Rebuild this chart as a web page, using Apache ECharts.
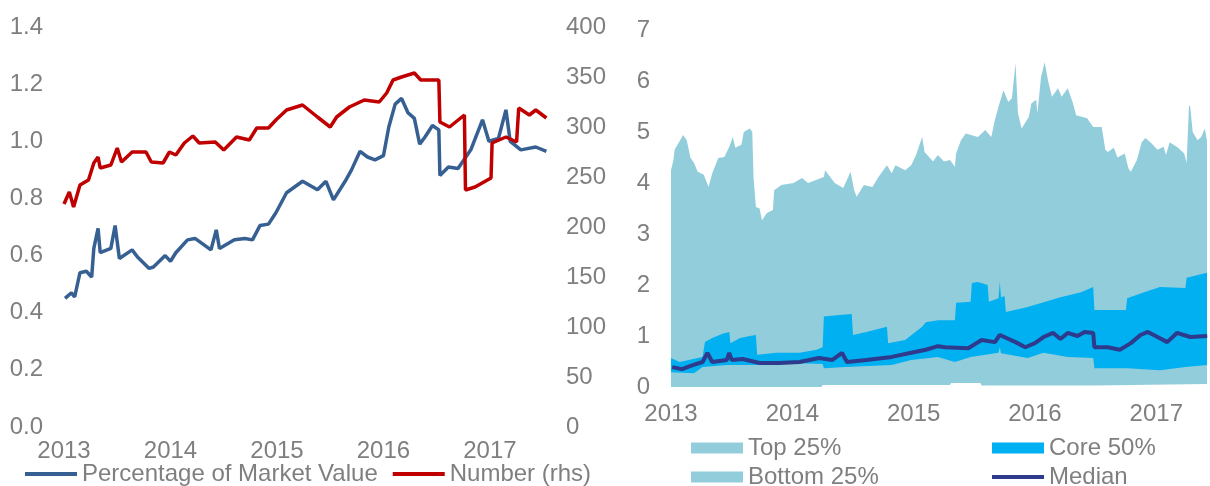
<!DOCTYPE html>
<html>
<head>
<meta charset="utf-8">
<script src="https://cdn.jsdelivr.net/npm/echarts@6/dist/echarts.min.js"></script>
<style>
  html, body { margin: 0; padding: 0; background: #fff; }
  #main { width: 1210px; height: 486px; }
</style>
</head>
<body>
<div id="main"></div>
<script>
// left panel: decimal years and values
const pctYears = [2013.01, 2013.07, 2013.10, 2013.15, 2013.21, 2013.26, 2013.28, 2013.32, 2013.34, 2013.44, 2013.48, 2013.52,
  2013.64, 2013.69, 2013.80, 2013.84, 2013.95, 2014.00, 2014.05, 2014.16, 2014.23, 2014.38, 2014.43, 2014.46,
  2014.60, 2014.70, 2014.77, 2014.84, 2014.92, 2014.99, 2015.09, 2015.24, 2015.38, 2015.46, 2015.53, 2015.64,
  2015.70, 2015.78, 2015.85, 2015.92, 2016.00, 2016.05, 2016.11, 2016.17, 2016.23, 2016.29, 2016.34, 2016.39,
  2016.46, 2016.52, 2016.53, 2016.61, 2016.70, 2016.82, 2016.93, 2016.99, 2017.08, 2017.15, 2017.19, 2017.29,
  2017.43, 2017.53]
const pctVals = [0.45, 0.47, 0.455, 0.54, 0.545, 0.525, 0.625, 0.695, 0.61, 0.625, 0.705, 0.59,
  0.62, 0.595, 0.555, 0.56, 0.60, 0.58, 0.61, 0.655, 0.66, 0.62, 0.69, 0.625,
  0.655, 0.66, 0.655, 0.705, 0.71, 0.75, 0.82, 0.86, 0.83, 0.86, 0.795, 0.86,
  0.90, 0.965, 0.945, 0.935, 0.95, 1.05, 1.13, 1.15, 1.10, 1.08, 0.99, 1.015,
  1.055, 1.04, 0.88, 0.91, 0.905, 0.97, 1.075, 1.00, 1.01, 1.11, 1.00, 0.97,
  0.98, 0.965]

const numYears = [2013.00, 2013.05, 2013.09, 2013.15, 2013.23, 2013.28, 2013.32, 2013.34, 2013.44, 2013.50, 2013.54, 2013.64,
  2013.77, 2013.82, 2013.93, 2013.99, 2014.05, 2014.13, 2014.21, 2014.27, 2014.42, 2014.50, 2014.62, 2014.74,
  2014.81, 2014.92, 2014.99, 2015.09, 2015.24, 2015.38, 2015.50, 2015.56, 2015.68, 2015.82, 2015.96, 2016.03,
  2016.09, 2016.17, 2016.29, 2016.35, 2016.52, 2016.53, 2016.62, 2016.76, 2016.77, 2016.86, 2017.01, 2017.02,
  2017.15, 2017.25, 2017.27, 2017.37, 2017.43, 2017.53]
const numVals = [223, 235, 220, 242, 247, 264, 270, 259, 262, 279, 265, 275,
  275, 265, 264, 275, 272, 284, 291, 284, 285, 277, 290, 287,
  299, 299, 307, 317, 322, 310, 300, 310, 320, 327, 325, 334,
  347, 350, 354, 347, 347, 305, 300, 312, 237, 240, 249, 284,
  290, 285, 319, 312, 317, 309]

// right panel: distribution bands
const maxYears = [2013.00, 2013.02, 2013.03, 2013.10, 2013.13, 2013.16, 2013.19, 2013.22, 2013.27, 2013.31, 2013.34, 2013.39,
  2013.44, 2013.48, 2013.51, 2013.53, 2013.58, 2013.60, 2013.65, 2013.67, 2013.68, 2013.70, 2013.73, 2013.75,
  2013.79, 2013.84, 2013.85, 2013.91, 2014.01, 2014.08, 2014.13, 2014.26, 2014.27, 2014.35, 2014.42, 2014.48,
  2014.51, 2014.53, 2014.59, 2014.66, 2014.71, 2014.78, 2014.82, 2014.85, 2014.93, 2014.98, 2015.02, 2015.07,
  2015.09, 2015.16, 2015.20, 2015.25, 2015.30, 2015.34, 2015.35, 2015.39, 2015.43, 2015.53, 2015.59, 2015.64,
  2015.67, 2015.70, 2015.74, 2015.78, 2015.81, 2015.84, 2015.86, 2015.89, 2015.95, 2015.97, 2016.01, 2016.02,
  2016.05, 2016.08, 2016.11, 2016.14, 2016.19, 2016.22, 2016.27, 2016.31, 2016.34, 2016.43, 2016.48, 2016.55,
  2016.58, 2016.60, 2016.65, 2016.68, 2016.74, 2016.77, 2016.79, 2016.84, 2016.88, 2016.91, 2016.96, 2017.01,
  2017.06, 2017.08, 2017.11, 2017.18, 2017.23, 2017.25, 2017.27, 2017.28, 2017.30, 2017.34, 2017.37, 2017.40,
  2017.42]
const maxVals = [4.25, 4.45, 4.65, 4.94, 4.84, 4.50, 4.39, 4.22, 4.16, 3.92, 4.19, 4.49,
  4.51, 4.71, 4.90, 4.69, 4.75, 5.00, 5.07, 5.00, 4.12, 3.53, 3.50, 3.27,
  3.41, 3.47, 3.86, 3.96, 4.00, 4.10, 4.00, 4.12, 4.25, 4.00, 3.90, 4.22,
  3.86, 3.73, 3.96, 3.92, 4.12, 4.35, 4.19, 4.35, 4.25, 4.35, 4.55, 4.90,
  4.61, 4.42, 4.55, 4.42, 4.45, 4.32, 4.58, 4.84, 4.97, 4.90, 5.04, 4.90,
  5.24, 5.50, 5.82, 5.59, 5.66, 6.35, 5.37, 5.07, 5.30, 5.56, 5.63, 5.37,
  6.08, 6.37, 5.98, 5.69, 5.86, 5.69, 5.86, 5.59, 5.33, 5.27, 5.10, 5.10,
  4.65, 4.61, 4.69, 4.50, 4.58, 4.29, 4.22, 4.45, 4.80, 4.88, 4.78, 4.65,
  4.71, 4.55, 4.80, 4.69, 4.58, 4.39, 5.53, 5.49, 5.00, 4.84, 4.90, 5.07,
  4.80]

const q3Years = [2013.00, 2013.07, 2013.26, 2013.28, 2013.34, 2013.43, 2013.48, 2013.49, 2013.57, 2013.65, 2013.70, 2013.71,
  2013.87, 2014.06, 2014.20, 2014.25, 2014.26, 2014.39, 2014.49, 2014.50, 2014.61, 2014.78, 2014.79, 2014.93,
  2015.07, 2015.10, 2015.20, 2015.34, 2015.35, 2015.47, 2015.48, 2015.53, 2015.61, 2015.62, 2015.70, 2015.71,
  2015.72, 2015.75, 2015.76, 2015.94, 2016.21, 2016.38, 2016.48, 2016.49, 2016.75, 2016.76, 2016.90, 2017.03,
  2017.24, 2017.25, 2017.42]
const q3Vals = [0.57, 0.49, 0.59, 0.88, 0.96, 1.05, 1.08, 0.86, 0.96, 1.00, 1.02, 0.63,
  0.67, 0.67, 0.73, 0.78, 1.38, 1.41, 1.43, 1.02, 1.08, 1.18, 0.86, 0.92,
  1.18, 1.27, 1.31, 1.31, 1.65, 1.67, 2.04, 2.06, 2.00, 1.67, 1.74, 2.06,
  1.76, 1.78, 1.47, 1.57, 1.76, 1.86, 1.96, 1.51, 1.51, 1.74, 1.86, 1.96,
  1.94, 2.14, 2.24]

const q1Years = [2013.00, 2013.19, 2013.26, 2013.46, 2013.73, 2014.00, 2014.25, 2014.26, 2014.44, 2014.82, 2014.98, 2015.20,
  2015.34, 2015.47, 2015.70, 2015.71, 2015.72, 2015.94, 2016.07, 2016.27, 2016.48, 2016.49, 2016.76, 2017.03,
  2017.24, 2017.42]
const q1Vals = [0.29, 0.27, 0.39, 0.43, 0.43, 0.47, 0.45, 0.37, 0.39, 0.43, 0.53, 0.59,
  0.49, 0.59, 0.67, 0.78, 0.66, 0.57, 0.67, 0.59, 0.57, 0.37, 0.37, 0.33,
  0.39, 0.43]

const minYears = [2013.00, 2014.24, 2014.25, 2015.30, 2015.31, 2015.55, 2015.56, 2016.50, 2017.42]
const minVals = [0, 0, 0.04, 0.04, 0.08, 0.08, 0.03, 0.03, 0.06]

const medYears = [2013.01, 2013.09, 2013.18, 2013.26, 2013.30, 2013.34, 2013.46, 2013.48, 2013.50, 2013.59, 2013.73, 2013.89,
  2014.06, 2014.22, 2014.33, 2014.41, 2014.45, 2014.61, 2014.82, 2014.98, 2015.10, 2015.20, 2015.26, 2015.45,
  2015.56, 2015.67, 2015.71, 2015.84, 2015.92, 2016.00, 2016.07, 2016.15, 2016.21, 2016.27, 2016.35, 2016.41,
  2016.48, 2016.49, 2016.60, 2016.70, 2016.79, 2016.87, 2016.93, 2017.01, 2017.09, 2017.17, 2017.28, 2017.42]
const medVals = [0.39, 0.35, 0.43, 0.49, 0.67, 0.49, 0.53, 0.67, 0.53, 0.55, 0.47, 0.47,
  0.49, 0.57, 0.53, 0.67, 0.49, 0.53, 0.59, 0.67, 0.73, 0.80, 0.78, 0.76,
  0.92, 0.88, 1.02, 0.88, 0.78, 0.86, 0.98, 1.06, 0.94, 1.06, 1.00, 1.08,
  1.06, 0.78, 0.78, 0.73, 0.86, 1.02, 1.08, 0.98, 0.88, 1.06, 0.98, 1.00]

const zip = (xs, ys) => xs.map((x, i) => [x, ys[i]])

const FONT = "'Liberation Sans', Arial, sans-serif"
const GREY = "#7f7f7f"
const txt = { color: GREY, fontSize: 24, fontFamily: FONT }
const yearLabel = (v) => (Number.isInteger(v) ? String(v) : "")

// one legend per entry so each sits where the original puts it
const legendAt = (left, top, name, h) => ({
  left: left, top: top, itemWidth: 52, itemHeight: h, itemGap: 15,
  textStyle: txt, data: [{ name: name, icon: "rect" }],
})

const noAxisLines = { axisLine: { show: false }, axisTick: { show: false }, splitLine: { show: false } }

const chart = echarts.init(document.getElementById("main"))

chart.setOption({
  animation: false,
  textStyle: { fontFamily: FONT },
  grid: [
    { left: 64, top: 27, width: 484, height: 400 },
    { left: 671, top: 30, width: 539, height: 357 },
  ],
  legend: [
    {
      left: 20, top: 457, itemWidth: 52, itemHeight: 4, itemGap: 15,
      textStyle: txt,
      data: [{ name: "Percentage of Market Value", icon: "rect" }, { name: "Number (rhs)", icon: "rect" }],
    },
    legendAt(686, 431, "Top 25%", 11),
    legendAt(686, 460, "Bottom 25%", 11),
    legendAt(987, 431, "Core 50%", 11),
    legendAt(987, 460, "Median", 4),
  ],
  xAxis: [
    {
      type: "value", gridIndex: 0, min: 2013, max: 2017.545, interval: 1, ...noAxisLines,
      axisLabel: { ...txt, margin: 12, formatter: yearLabel },
    },
    {
      type: "value", gridIndex: 1, min: 2013, max: 2017.418, interval: 1, ...noAxisLines,
      axisLabel: { ...txt, margin: 15, formatter: yearLabel },
    },
  ],
  yAxis: [
    {
      type: "value", gridIndex: 0, min: 0, max: 1.4, interval: 0.2, ...noAxisLines,
      axisLabel: { ...txt, margin: 21, formatter: (v) => v.toFixed(1) },
    },
    {
      type: "value", gridIndex: 0, position: "right", min: 0, max: 400, interval: 50, ...noAxisLines,
      axisLabel: { ...txt, margin: 18 },
    },
    {
      type: "value", gridIndex: 1, min: 0, max: 7, interval: 1, ...noAxisLines,
      axisLabel: { ...txt, margin: 21 },
    },
  ],
  series: [
    {
      name: "Percentage of Market Value", type: "line", xAxisIndex: 0, yAxisIndex: 0,
      symbol: "none", color: "#376092", lineStyle: { width: 3.5, color: "#376092" },
      data: zip(pctYears, pctVals),
    },
    {
      name: "Number (rhs)", type: "line", xAxisIndex: 0, yAxisIndex: 1,
      symbol: "none", color: "#c00000", lineStyle: { width: 3.5, color: "#c00000" },
      data: zip(numYears, numVals),
    },
    {
      name: "Top 25%", type: "line", xAxisIndex: 1, yAxisIndex: 2,
      symbol: "none", color: "#92cddc", lineStyle: { width: 0 },
      areaStyle: { color: "#92cddc", opacity: 1 },
      data: zip(maxYears, maxVals),
    },
    {
      name: "Core 50%", type: "line", xAxisIndex: 1, yAxisIndex: 2,
      symbol: "none", color: "#00b0f0", lineStyle: { width: 0 },
      areaStyle: { color: "#00b0f0", opacity: 1 },
      data: zip(q3Years, q3Vals),
    },
    {
      name: "Bottom 25%", type: "line", xAxisIndex: 1, yAxisIndex: 2,
      symbol: "none", color: "#92cddc", lineStyle: { width: 0 },
      areaStyle: { color: "#92cddc", opacity: 1 },
      data: zip(q1Years, q1Vals),
    },
    {
      name: "min", type: "line", xAxisIndex: 1, yAxisIndex: 2,
      symbol: "none", color: "#ffffff", lineStyle: { width: 0 },
      areaStyle: { color: "#ffffff", opacity: 1 },
      data: zip(minYears, minVals),
    },
    {
      name: "Median", type: "line", xAxisIndex: 1, yAxisIndex: 2,
      symbol: "none", color: "#2e3a8c", lineStyle: { width: 4, color: "#2e3a8c" },
      data: zip(medYears, medVals),
    },
  ],
})
</script>
</body>
</html>
